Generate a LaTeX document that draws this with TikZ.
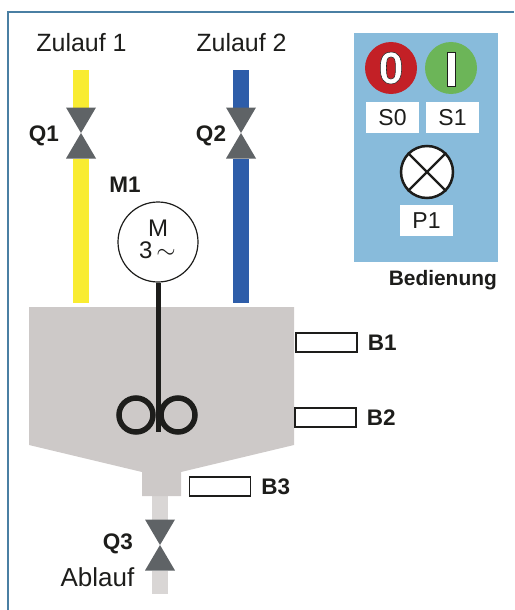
\documentclass[tikz,border=0pt]{standalone}
\usepackage{fontspec}
\setmainfont{Liberation Sans}
\definecolor{framecol}{HTML}{4A7FA3}
\definecolor{inkcol}{HTML}{1D1D1B}
\definecolor{valvecol}{HTML}{5F6366}
\definecolor{tankcol}{HTML}{CDC9C8}
\definecolor{drainpipe}{HTML}{D9D6D5}
\definecolor{yellowpipe}{HTML}{F9EC31}
\definecolor{bluepipe}{HTML}{2E5DA9}
\definecolor{panelcol}{HTML}{88BBDB}
\definecolor{redbtn}{HTML}{C32026}
\definecolor{greenbtn}{HTML}{6CB558}
\tikzset{
	plainlabel/.style={inner sep=0pt,text=inkcol,font=\fontsize{25}{25}\selectfont},
	boldlabel/.style={inner sep=0pt,text=inkcol,font=\fontsize{22.5}{24}\selectfont\bfseries},
	pipe/.style={line width=16pt},
	valvetri/.style={fill=valvecol},
	sensor/.style={draw=inkcol,line width=1.2pt,fill=white,minimum width=61pt,minimum height=19pt,inner sep=0pt},
	tagbox/.style={fill=white,text=inkcol,minimum width=53pt,minimum height=31pt,inner sep=0pt,font=\fontsize{23}{24}\selectfont},
	button/.style={circle,minimum size=52pt,inner sep=0pt},
	motortext/.style={text=inkcol,inner sep=0pt,font=\fontsize{24}{24}\selectfont},
}
\begin{document}
\begin{tikzpicture}[x=1pt,y=1pt]
	\useasboundingbox (0,-610) rectangle (514,0);
	\draw [framecol,line width=2pt] (7.5,-610) -- (7.5,-12.5) -- (514,-12.5);
	% pipes
	\coordinate (in1top) at (81,-70);
	\coordinate (in1end) at (81,-303);
	\coordinate (in2top) at (241,-70);
	\coordinate (in2end) at (241,-303);
	\coordinate (outtop) at (160,-496);
	\coordinate (outend) at (160,-594);
	\draw [pipe,yellowpipe] (in1top) -- (in1end);
	\draw [pipe,bluepipe] (in2top) -- (in2end);
	\draw [pipe,drainpipe] (outtop) -- (outend);
	\node [plainlabel] (zulauf1) at (81.5,-43) {Zulauf 1};
	\node [plainlabel] (zulauf2) at (241.5,-43) {Zulauf 2};
	\node [plainlabel,font=\fontsize{26}{26}\selectfont] (ablauf) at (97.5,-577) {Ablauf};
	% valves
	\foreach \vx/\vy in {81/-133,241/-133,160/-545} {
		\fill [white] (\vx-15,\vy-25.5) rectangle (\vx+15,\vy+25.5);
		\fill [valvetri] (\vx-15,\vy-25.5) -- (\vx+15,\vy-25.5) -- (\vx,\vy) -- cycle;
		\fill [valvetri] (\vx-15,\vy+25.5) -- (\vx+15,\vy+25.5) -- (\vx,\vy) -- cycle;
	}
	\node [boldlabel] (q1) at (44,-135.5) {Q1};
	\node [boldlabel] (q2) at (211,-135.5) {Q2};
	\node [boldlabel] (q3) at (118,-543.5) {Q3};
	% tank
	\fill [tankcol] (29,-307) -- (294,-307) -- (294,-445) -- (181,-472) -- (181,-496) -- (142,-496) -- (142,-472) -- (29,-445) -- cycle;
	% motor and stirrer
	\node [boldlabel] (m1) at (125,-185) {M1};
	\node [circle,draw=inkcol,line width=1.2pt,fill=white,minimum size=80pt,inner sep=0pt] (motor) at (158,-242) {};
	\node [motortext] (motorm) at (158,-228.5) {M};
	\node [motortext] (motorac) at (157.5,-250.5) {3\,$\sim$};
	\coordinate (shaftend) at (158,-432);
	\draw [inkcol,line width=5pt] (motor.south) -- (shaftend);
	\draw [inkcol,line width=5.5pt] (136,-415) circle (17);
	\draw [inkcol,line width=5.5pt] (178,-415) circle (17);
	% sensors
	\node [sensor] (b1box) at (326.5,-342.5) {};
	\node [sensor] (b2box) at (325.5,-417.5) {};
	\node [sensor] (b3box) at (220,-486.5) {};
	\node [boldlabel,right=10pt] (b1) at (b1box.east) {B1};
	\node [boldlabel,right=10pt] (b2) at (b2box.east) {B2};
	\node [boldlabel,right=10pt] (b3) at (b3box.east) {B3};
	% operating panel
	\fill [panelcol] (354,-33) rectangle (498,-262);
	\node [button,fill=redbtn] (s0btn) at (391,-68) {};
	\node [button,fill=greenbtn] (s1btn) at (451,-68) {};
	\node [inner sep=0pt,font=\fontsize{45}{46}\selectfont\bfseries\addfontfeature{FakeBold=1.2}] (zero) at (s0btn) {\special{pdf:bcolor [1] [0.15]}0\special{pdf:ecolor}};
	\draw [inkcol,fill=white,line width=0.6pt] (447,-52) rectangle (455,-86);
	\node [tagbox] (s0) at (392.5,-117.5) {S0};
	\node [tagbox] (s1) at (452.5,-117.5) {S1};
	\node [circle,draw=inkcol,line width=2.5pt,fill=white,minimum size=52pt,inner sep=0pt] (p1lamp) at (427,-172) {};
	\draw [inkcol,line width=2.2pt] (p1lamp.north west) -- (p1lamp.south east);
	\draw [inkcol,line width=2.2pt] (p1lamp.north east) -- (p1lamp.south west);
	\node [tagbox] (p1) at (426.5,-220.5) {P1};
	\node [inner sep=0pt,anchor=east,text=inkcol,font=\fontsize{20.9}{24}\selectfont\bfseries] (bedienung) at (497,-280) {Bedienung};
\end{tikzpicture}
\end{document}
